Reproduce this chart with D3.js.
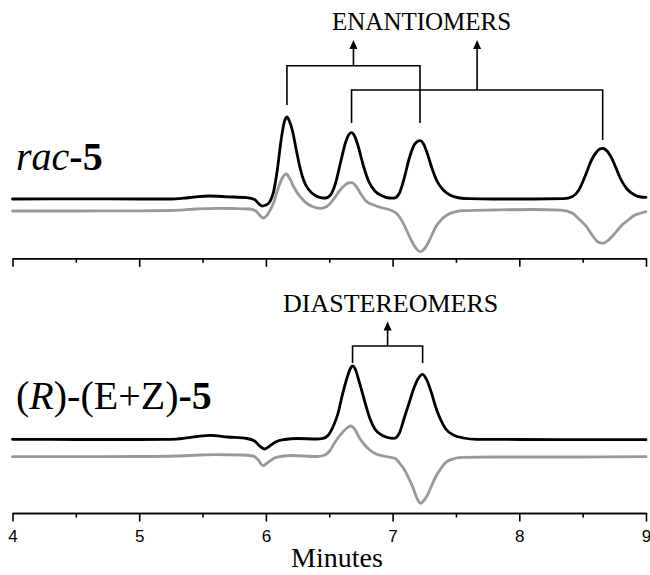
<!DOCTYPE html>
<html>
<head>
<meta charset="utf-8">
<script src="https://cdn.jsdelivr.net/npm/d3@7"></script>
<style>
  html, body { margin: 0; padding: 0; background: #fff; }
  svg { display: block; }
</style>
</head>
<body>
<svg id="chart" width="650" height="575"></svg>
<script>
// ---------------- DATA ----------------
// x axis (minutes)
const xTicksMajor = [4, 5, 6, 7, 8, 9];
const xTicksMinor = [4.5, 5.5, 6.5, 7.5, 8.5];
const xLabel = "Minutes";

// Top panel (rac-5): [minutes, signal]
const racBlack = [[4.00,59],[4.50,59.2],[5.00,59],[5.25,59],[5.35,59.8],[5.45,61.2],[5.55,62],[5.70,61.2],[5.85,60.3],[5.91,58.5],[5.95,53.5],[5.97,52],[6.00,53],[6.03,56],[6.06,66],[6.09,88],[6.12,118],[6.145,136],[6.166,141],[6.185,137],[6.21,127],[6.24,108],[6.27,90],[6.30,77],[6.34,68],[6.39,62.5],[6.44,60.2],[6.47,60],
  [6.51,63],[6.55,75],[6.59,96],[6.63,116],[6.655,123.5],[6.676,125.3],[6.70,122],[6.73,111],[6.77,92],[6.81,77],[6.86,67],[6.92,62],[6.97,60],[7.01,59.8],
  [7.05,64],[7.09,79],[7.13,99],[7.17,113],[7.195,116.5],[7.216,117.3],[7.24,115],[7.27,106],[7.31,90],[7.35,77],[7.40,68],[7.46,62.5],[7.53,60],[7.60,59.3],[7.80,59],[8.10,59],[8.35,59.3],
  [8.42,61.5],[8.47,68],[8.52,82],[8.57,98],[8.61,106],[8.635,109],[8.658,109.7],[8.68,108.5],[8.72,102],[8.76,91],[8.80,79],[8.85,69],[8.91,63],[8.96,61],[9.00,60.7]];
const racGray = [[4.00,47],[4.50,47],[5.00,47.2],[5.25,47.5],[5.35,48.2],[5.45,49],[5.60,49.7],[5.75,49.5],[5.87,49],[5.92,47],[5.95,43],[5.975,40],[6.00,41.5],[6.03,47],[6.06,55],[6.10,71],[6.13,80],[6.16,84],[6.19,79],[6.22,71],[6.27,61.3],[6.33,54],[6.39,50.5],[6.43,49.7],[6.48,51.5],[6.53,58],[6.58,67],[6.62,72.5],[6.65,75],[6.68,75.3],[6.71,72],[6.75,64],[6.79,57],[6.85,53],[6.92,50],[6.98,48],[7.03,44.7],[7.07,38],[7.11,28],[7.15,17],[7.18,10.5],[7.22,6.3],[7.25,9],[7.28,15],[7.31,23],[7.34,31],[7.39,39],[7.43,43],[7.50,46.3],[7.56,47.3],[7.80,48],[8.10,48.5],[8.33,47.8],[8.42,44.7],[8.47,39],[8.53,31.3],[8.58,22],[8.62,16],[8.66,14.7],[8.70,17.5],[8.73,21.3],[8.77,27],[8.81,33],[8.86,38],[8.90,42],[8.95,44.5],[9.00,46.3]];

// Bottom panel ((R)-(E+Z)-5)
const rezBlack = [[4.00,73.7],[4.50,73.5],[5.00,73.5],[5.25,73.7],[5.35,74.6],[5.45,76.3],[5.56,77.7],[5.70,76],[5.85,74.5],[5.91,72],[5.95,67],[5.99,64],[6.03,67],[6.08,71.3],[6.15,73.5],[6.25,74.5],[6.40,74],[6.45,74.6],[6.49,77.5],[6.53,86.3],[6.57,100],[6.60,116.3],[6.64,135],[6.665,144],[6.684,147],[6.705,144],[6.73,134],[6.755,123],[6.79,107],[6.82,94.7],[6.86,84],[6.913,78],[6.96,75.5],[7.01,74.7],[7.05,79],[7.095,96.3],[7.13,110],[7.163,123],[7.20,134],[7.237,138.7],[7.27,133],[7.308,119.7],[7.34,106],[7.374,94.7],[7.42,84],[7.48,78],[7.56,75],[7.663,73.7],[8.00,73.5],[8.50,73.3],[9.00,73.3]];
const rezGray = [[4.00,56.3],[4.50,56.3],[5.00,56.5],[5.30,57],[5.48,58],[5.60,58.3],[5.80,58],[5.90,57],[5.94,53],[5.977,47.3],[6.01,50],[6.08,55.7],[6.20,57.5],[6.40,56.5],[6.46,57.8],[6.50,61.5],[6.54,69.7],[6.58,77],[6.61,81.3],[6.64,85],[6.67,87],[6.70,84],[6.74,74.7],[6.78,68],[6.82,63],[6.87,59],[6.926,57],[6.97,56],[7.018,54.7],[7.06,49],[7.095,43],[7.13,34],[7.163,24.7],[7.19,15.5],[7.22,9.7],[7.25,13],[7.282,19.7],[7.31,28],[7.348,38],[7.39,46],[7.427,51.3],[7.49,54.5],[7.558,55.7],[7.80,56],[8.50,56],[9.00,56.3]];

// Peak retention times used by the annotation brackets
const enantiomerPairs = [[6.166, 7.216], [6.676, 8.658]];
const diastereomerPair = [6.684, 7.237];
const topTitle = "ENANTIOMERS";
const bottomTitle = "DIASTEREOMERS";

// ---------------- DRAW ----------------
const svg = d3.select("#chart");
const serif = "'Liberation Serif', 'Times New Roman', serif";
const sans = "'Liberation Sans', Arial, sans-serif";

const x = d3.scaleLinear().domain([4, 9]).range([12.5, 646]);
const yTop = d3.scaleLinear().domain([0, 150]).range([258, 108]);
const yBot = d3.scaleLinear().domain([0, 150]).range([513, 363]);

function drawTrace(data, y, color) {
  const line = d3.line().x(d => x(d[0])).y(d => y(d[1])).curve(d3.curveMonotoneX);
  svg.append("path").datum(data).attr("d", line)
    .attr("fill", "none").attr("stroke", color).attr("stroke-width", 2.8)
    .attr("stroke-linejoin", "round").attr("stroke-linecap", "round");
}

function drawAxis(yPos, labels) {
  const gMinor = svg.append("g").attr("transform", `translate(0,${yPos})`)
    .call(d3.axisBottom(x).tickValues(xTicksMinor).tickSize(4.5).tickSizeOuter(0).tickFormat(""));
  const gMajor = svg.append("g").attr("transform", `translate(0,${yPos})`)
    .call(d3.axisBottom(x).tickValues(xTicksMajor).tickSize(8.5).tickSizeOuter(0)
      .tickPadding(8).tickFormat(labels ? d3.format("d") : ""));
  [gMinor, gMajor].forEach(g => {
    g.selectAll("path, line").attr("stroke", "#000").attr("stroke-width", 1.6);
    g.selectAll("text").attr("font-family", sans).attr("font-size", 17).attr("fill", "#000");
  });
}

function drawBracket(t1, t2, yBar, yEnd1, yEnd2, yTip) {
  const mid = (t1 + t2) / 2;
  const g = svg.append("g").attr("stroke", "#000").attr("stroke-width", 1.6).attr("fill", "none");
  g.append("path").attr("d", `M${x(t1)},${yEnd1}V${yBar}H${x(t2)}V${yEnd2}`);
  g.append("line").attr("x1", x(mid)).attr("x2", x(mid)).attr("y1", yBar).attr("y2", yTip + 6);
  svg.append("path")
    .attr("d", `M${x(mid)},${yTip}L${x(mid) - 4},${yTip + 9}L${x(mid) + 4},${yTip + 9}Z`)
    .attr("fill", "#000");
}

// axes
drawAxis(258.3, false);
drawAxis(513, true);

// traces
drawTrace(racGray, yTop, "#999999");
drawTrace(racBlack, yTop, "#000000");
drawTrace(rezGray, yBot, "#999999");
drawTrace(rezBlack, yBot, "#000000");

// brackets
drawBracket(enantiomerPairs[0][0], enantiomerPairs[0][1], 65.7, 105, 123, 40);
drawBracket(enantiomerPairs[1][0], enantiomerPairs[1][1], 90, 123, 140, 40);
drawBracket(diastereomerPair[0], diastereomerPair[1], 346, 363, 363, 321.5);

// annotation titles
svg.append("text").attr("x", 332).attr("y", 30)
  .attr("font-family", serif).attr("font-size", 25).text(topTitle);
svg.append("text").attr("x", 283).attr("y", 311.5)
  .attr("font-family", serif).attr("font-size", 26).text(bottomTitle);

// sample labels
const t1 = svg.append("text").attr("x", 16).attr("y", 170)
  .attr("font-family", serif).attr("font-size", 40);
t1.append("tspan").attr("font-style", "italic").text("rac");
t1.append("tspan").attr("font-weight", "bold").text("-5");

const t2 = svg.append("text").attr("x", 16).attr("y", 409)
  .attr("font-family", serif).attr("font-size", 40);
t2.append("tspan").text("(");
t2.append("tspan").attr("font-style", "italic").text("R");
t2.append("tspan").text(")-(E+Z)");
t2.append("tspan").attr("font-weight", "bold").text("-5");

// x label
svg.append("text").attr("x", 337).attr("y", 567).attr("text-anchor", "middle")
  .attr("font-family", serif).attr("font-size", 28).text(xLabel);
</script>
</body>
</html>
